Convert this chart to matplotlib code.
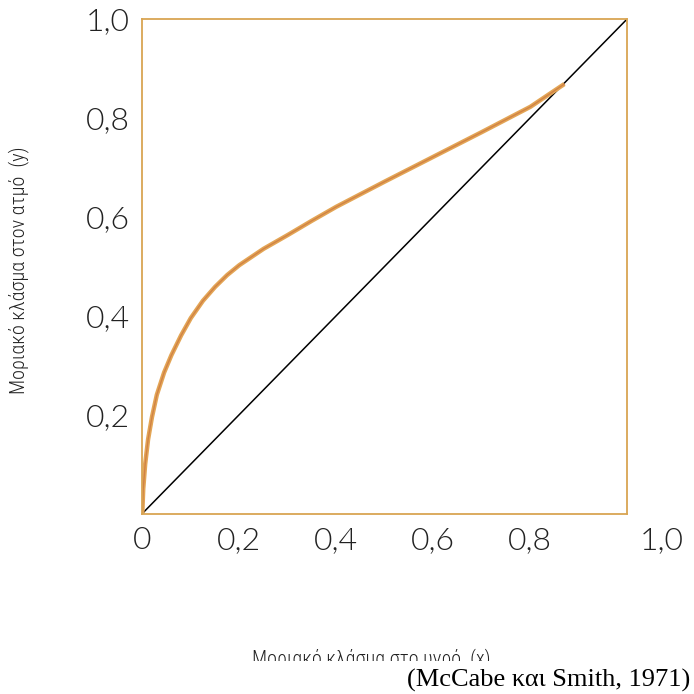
import matplotlib
matplotlib.use('Agg')
import matplotlib.pyplot as plt
import matplotlib.transforms as mtrans
from matplotlib.patches import Rectangle

# equilibrium curve
X_LIQUID = [0, 0.002, 0.006, 0.012, 0.02, 0.03, 0.045, 0.06, 0.08, 0.1, 0.125,
            0.15, 0.175, 0.2, 0.25, 0.3, 0.35, 0.4, 0.5, 0.6, 0.7, 0.8, 0.87]
Y_VAPOUR = [0, 0.05, 0.10, 0.15, 0.195, 0.24, 0.285, 0.32, 0.36, 0.395, 0.43,
            0.458, 0.482, 0.502, 0.535, 0.563, 0.592, 0.62, 0.671, 0.721, 0.771, 0.822, 0.868]

DIAG = [0, 1]
TICKS = [0, 0.2, 0.4, 0.6, 0.8, 1.0]
XTICK_LABELS = ['0', '0,2', '0,4', '0,6', '0,8', '1,0']
YTICK_LABELS = ['', '0,2', '0,4', '0,6', '0,8', '1,0']

XLABEL = 'Μοριακό κλάσμα στο υγρό  (x)'
YLABEL = 'Μοριακό κλάσμα στον ατμό  (y)'
SOURCE = '(McCabe και Smith, 1971)'

FRAME = '#d9a553'
CURVE = '#e3a555'
CURVE_CORE = '#c9743f'

tick_font = dict(family=['Lato', 'DejaVu Sans'], weight=300, size=23, color='#222222')
label_font = dict(family=['Roboto Condensed', 'Noto Sans Condensed', 'Liberation Sans Narrow',
                          'DejaVu Sans'],
                  stretch='condensed', weight=300, size=14.5, color='#222222')

fig = plt.figure(figsize=(6.94, 6.94), dpi=100)
ax = fig.add_axes([0.205, 0.26, 0.699, 0.713])

ax.plot(DIAG, DIAG, color='black', lw=1.1)
ax.plot(X_LIQUID, Y_VAPOUR, color=CURVE, lw=3.2, solid_capstyle='butt')
ax.plot(X_LIQUID, Y_VAPOUR, color=CURVE_CORE, lw=1.0, alpha=0.7)

ax.set_xlim(0, 1)
ax.set_ylim(0, 1)
for s in ax.spines.values():
    s.set_color(FRAME)
    s.set_linewidth(1.3)

ax.set_xticks(TICKS)
ax.set_yticks(TICKS)
ax.set_xticklabels(XTICK_LABELS, **tick_font)
ax.set_yticklabels(YTICK_LABELS, **tick_font)
ax.tick_params(length=0, pad=9)

# last x label sits further right in the original
lab = ax.get_xticklabels()[-1]
lab.set_transform(lab.get_transform() + mtrans.ScaledTranslation(0.34, 0, fig.dpi_scale_trans))

fig.text(0.535, 0.051, XLABEL, ha='center', va='center', **label_font)
fig.text(0.027, 0.61, YLABEL, ha='center', va='center', rotation=90, **label_font)

# white band cuts the x label, source note on top
fig.patches.append(Rectangle((0, 0), 1, 0.048, transform=fig.transFigure,
                             facecolor='white', edgecolor='none', zorder=5))
fig.text(0.994, 0.003, SOURCE, ha='right', va='bottom', family='Liberation Serif',
         size=19, color='black', zorder=6)

fig.savefig('out.png', dpi=100)
